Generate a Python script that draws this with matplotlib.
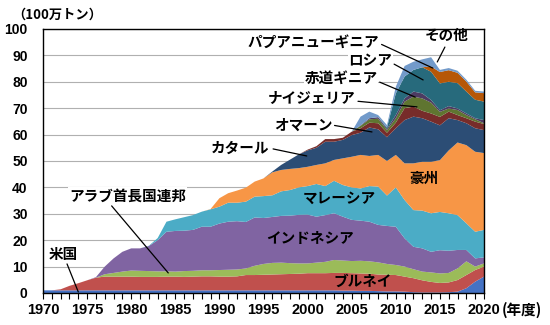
import matplotlib
matplotlib.use("Agg")
import matplotlib.pyplot as plt
import numpy as np

plt.rcParams['font.family'] = ['Noto Sans CJK JP', 'DejaVu Sans']

years = list(range(1970, 2021))

# LNG imports by source (million tonnes), fiscal years 1970-2020
us = [1.0, 1.0, 1.0, 1.0, 1.0, 1.0, 1.0, 1.0, 1.0, 1.0,
      1.0, 1.0, 1.0, 1.0, 1.0, 1.0, 1.0, 1.0, 1.0, 1.0,
      1.0, 1.0, 1.0, 1.0, 1.0, 1.0, 1.0, 1.0, 1.0, 1.0,
      1.0, 1.0, 1.0, 1.0, 0.9, 0.9, 0.8, 0.8, 0.7, 0.6,
      0.6, 0.5, 0.3, 0.2, 0.2, 0.2, 0.3, 0.5, 1.8, 4.3,
      6.2]
brunei = [0.0, 0.0, 0.4, 1.7, 2.7, 3.8, 4.8, 5.2, 5.2, 5.2,
          5.2, 5.1, 5.1, 5.1, 5.2, 5.2, 5.1, 5.2, 5.3, 5.3,
          5.2, 5.2, 5.3, 5.8, 5.8, 5.9, 6.0, 6.1, 6.2, 6.3,
          6.5, 6.5, 6.5, 6.6, 6.7, 6.6, 6.6, 6.5, 6.3, 6.3,
          6.2, 5.7, 5.3, 4.6, 4.0, 3.6, 3.7, 4.4, 5.0, 4.4,
          3.8]
uae = [0.0, 0.0, 0.0, 0.0, 0.0, 0.0, 0.0, 0.9, 1.4, 1.9,
       2.3, 2.3, 2.2, 2.1, 2.0, 1.9, 2.2, 2.2, 2.3, 2.3,
       2.5, 2.6, 2.6, 2.5, 3.5, 4.1, 4.4, 4.4, 4.1, 3.9,
       3.7, 4.0, 4.3, 4.9, 4.7, 4.6, 4.8, 4.7, 4.6, 4.1,
       3.8, 3.8, 3.4, 3.3, 3.6, 3.6, 3.6, 4.4, 5.2, 1.3,
       1.2]
indonesia = [0.0, 0.0, 0.0, 0.0, 0.0, 0.0, 0.2, 2.9, 5.5, 7.5,
             8.4, 8.5, 9.5, 11.8, 15.0, 15.4, 15.3, 15.5, 16.5, 16.5,
             17.6, 18.2, 18.3, 17.6, 18.3, 17.4, 17.4, 17.7, 18.0, 18.4,
             18.5, 17.4, 17.7, 17.7, 16.6, 15.6, 15.2, 15.0, 14.2, 14.4,
             14.5, 10.7, 8.5, 8.8, 7.8, 8.8, 8.4, 7.0, 4.3, 3.1,
             2.3]
malaysia = [0.0, 0.0, 0.0, 0.0, 0.0, 0.0, 0.0, 0.0, 0.0, 0.0,
            0.0, 0.0, 0.1, 0.8, 3.8, 4.4, 5.1, 5.6, 5.7, 6.6,
            6.4, 7.2, 7.0, 7.7, 7.9, 8.3, 8.2, 9.3, 9.7, 10.4,
            10.8, 12.4, 11.0, 12.3, 12.0, 12.3, 12.2, 13.5, 14.5, 11.5,
            14.9, 14.5, 13.9, 14.3, 14.6, 14.5, 14.2, 13.2, 10.1, 10.1,
            10.4]
australia = [0.0, 0.0, 0.0, 0.0, 0.0, 0.0, 0.0, 0.0, 0.0, 0.0,
             0.0, 0.0, 0.0, 0.0, 0.0, 0.0, 0.0, 0.0, 0.0, 0.1,
             3.2, 3.6, 4.6, 5.3, 5.7, 6.7, 8.7, 8.1, 8.0, 7.3,
             7.3, 7.2, 8.6, 7.9, 10.1, 11.6, 12.7, 11.4, 12.0, 13.1,
             12.3, 13.9, 17.7, 18.5, 19.5, 19.6, 23.8, 27.5, 29.6, 30.3,
             29.1]
qatar = [0.0, 0.0, 0.0, 0.0, 0.0, 0.0, 0.0, 0.0, 0.0, 0.0,
         0.0, 0.0, 0.0, 0.0, 0.0, 0.0, 0.0, 0.0, 0.0, 0.0,
         0.0, 0.0, 0.0, 0.0, 0.0, 0.0, 0.3, 1.9, 3.5, 5.2,
         6.2, 6.5, 8.2, 6.9, 7.0, 8.2, 8.4, 10.8, 9.7, 9.0,
         10.1, 16.4, 17.7, 16.5, 15.2, 13.2, 12.2, 8.5, 8.3, 8.9,
         8.7]
oman = [0.0] * 30 + [
        0.3, 0.6, 1.0, 1.0, 0.8, 1.3, 1.7, 1.8, 2.3, 1.7,
        2.1, 4.5, 3.8, 2.8, 3.1, 3.2, 2.5, 1.9, 1.9, 2.5,
        2.3]
nigeria = [0.0] * 30 + [
           0.0, 0.0, 0.0, 0.0, 0.0, 0.0, 0.9, 1.3, 1.7, 1.0,
           1.7, 2.5, 3.8, 4.7, 4.1, 1.9, 1.2, 1.9, 1.2, 0.9,
           0.3]
eq_guinea = [0.0] * 30 + [
             0.0, 0.0, 0.0, 0.0, 0.0, 0.0, 0.2, 0.4, 0.6, 0.5,
             1.2, 1.2, 1.9, 1.9, 1.0, 0.6, 0.9, 0.6, 0.6, 0.4,
             1.2]
russia = [0.0] * 30 + [
          0.0, 0.0, 0.0, 0.0, 0.0, 0.0, 0.0, 0.0, 0.0, 0.5,
          8.2, 8.3, 8.2, 9.9, 10.7, 10.2, 9.2, 9.6, 8.3, 7.0,
          7.0]
png = [0.0] * 30 + [
       0.0, 0.0, 0.0, 0.0, 0.0, 0.0, 0.0, 0.0, 0.0, 0.0,
       0.0, 0.0, 0.0, 0.0, 2.0, 4.3, 4.4, 3.9, 3.8, 2.8,
       3.2]
others = [0.0] * 30 + [
          0.0, 0.0, 0.0, 0.0, 0.0, 0.0, 3.3, 2.5, 0.8, 0.9,
          2.5, 4.0, 3.1, 3.0, 3.5, 0.8, 0.8, 0.8, 0.7, 0.6,
          0.6]

series = [us, brunei, uae, indonesia, malaysia, australia, qatar,
          oman, nigeria, eq_guinea, russia, png, others]
colors = ['#4472C4', '#C0504D', '#9BBB59', '#8064A2', '#4BACC6', '#F79646',
          '#2C4D75', '#772C2A', '#5F7530', '#4D3B62', '#276A7C', '#B65708',
          '#729ACA']

fig = plt.figure(figsize=(5.5, 3.25), dpi=100)
ax = fig.add_axes([0.0782, 0.0985, 0.8018, 0.8123])

ax.stackplot(years, *series, colors=colors, linewidth=0)

ax.set_xlim(1970, 2020)
ax.set_ylim(0, 100)
ax.set_yticks(range(0, 101, 10))
ax.set_xticks(range(1970, 2021, 5))
ax.set_xticks(range(1970, 2021), minor=True)
ax.grid(axis='y', color='#b0b0b0', linewidth=0.8)
ax.set_axisbelow(True)
for s in ax.spines.values():
    s.set_color('black')
    s.set_linewidth(1.0)
ax.tick_params(axis='x', which='both', direction='out', length=4, width=0.8)
ax.tick_params(axis='y', length=0, pad=11)
for lab in ax.get_xticklabels():
    lab.set_fontfamily('Liberation Sans')
    lab.set_fontweight('bold')
    lab.set_fontsize(10.5)
for lab in ax.get_yticklabels():
    lab.set_fontfamily('Liberation Sans')
    lab.set_fontweight('bold')
    lab.set_fontsize(10)

fig.text(0.022, 0.955, '（100万トン）', fontsize=9.5, fontweight='bold', ha='left', va='center')
fig.text(0.912, 0.045, '(年度)', fontsize=10.5, fontweight='bold', ha='left', va='center')

box = dict(facecolor='white', edgecolor='none', pad=0.5)
lab_kw = dict(fontsize=10.5, fontweight='bold', ha='center', va='center')
line = dict(arrowstyle='-', color='black', lw=0.9, shrinkA=1, shrinkB=0)

ax.annotate('米国', xy=(1974.0, 0.4), xytext=(1972.3, 14.8),
            arrowprops=dict(line, relpos=(0.6, 0.0)), bbox=box, **lab_kw)
ax.annotate('アラブ首長国連邦', xy=(1984.2, 7.6), xytext=(1979.6, 36.7),
            arrowprops=dict(line, relpos=(0.35, 0.0)), bbox=box, **lab_kw)
ax.annotate('カタール', xy=(1999.9, 51.9), xytext=(1992.3, 54.9),
            arrowprops=dict(line, relpos=(1.0, 0.5)), **lab_kw)
ax.annotate('オマーン', xy=(2007.3, 61.0), xytext=(1999.5, 63.6),
            arrowprops=dict(line, relpos=(1.0, 0.5)), bbox=box, **lab_kw)
ax.annotate('ナイジェリア', xy=(2012.4, 70.5), xytext=(2000.5, 73.9),
            arrowprops=dict(line, relpos=(1.0, 0.3)), bbox=box, **lab_kw)
ax.annotate('赤道ギニア', xy=(2012.2, 74.2), xytext=(2003.8, 81.4),
            arrowprops=dict(line, relpos=(1.0, 0.3)), bbox=box, **lab_kw)
ax.annotate('ロシア', xy=(2013.1, 80.7), xytext=(2007.1, 88.3),
            arrowprops=dict(line, relpos=(1.0, 0.3)), bbox=box, **lab_kw)
ax.annotate('パプアニューギニア', xy=(2014.2, 85.2), xytext=(2000.7, 95.1),
            arrowprops=dict(line, relpos=(1.0, 0.4)), bbox=box, **lab_kw)
ax.annotate('その他', xy=(2014.7, 87.5), xytext=(2015.8, 97.7),
            arrowprops=dict(line, relpos=(0.5, 0.0)), **lab_kw)

ax.text(2000.3, 21.0, 'インドネシア', **lab_kw)
ax.text(2003.6, 36.0, 'マレーシア', **lab_kw)
ax.text(2013.2, 43.5, '豪州', **lab_kw)
ax.text(2006.3, 4.8, 'ブルネイ', **lab_kw)

fig.savefig('out.png', dpi=100)
